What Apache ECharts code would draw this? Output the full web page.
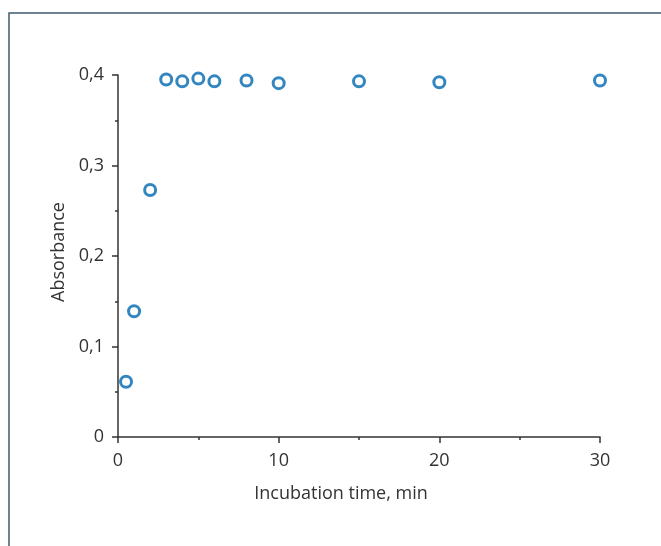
<!DOCTYPE html>
<html>
<head>
<meta charset="utf-8">
<script src="https://cdn.jsdelivr.net/npm/echarts@6/dist/echarts.min.js"></script>
<style>
  html, body { margin: 0; padding: 0; background: #fff; }
  #chart { width: 661px; height: 546px; }
</style>
</head>
<body>
<div id="chart"></div>
<script>
// incubation time (min) and absorbance
const times = [0.5, 1, 2, 3, 4, 5, 6, 8, 10, 15, 20, 30];
const absorbance = [0.061, 0.139, 0.273, 0.395, 0.393, 0.396, 0.393, 0.394, 0.391, 0.393, 0.392, 0.394];
const xTicks = [0, 10, 20, 30];
const yTicks = [0, 0.1, 0.2, 0.3, 0.4];

const points = times.map((t, i) => [t, absorbance[i]]);
const font = 'Open Sans';
const ink = '#333';

const chart = echarts.init(document.getElementById('chart'));
chart.setOption({
    animation: false,
    grid: { left: 118, right: 61, top: 75, bottom: 109 },
    graphic: [{
        type: 'rect',
        shape: { x: 9, y: 13, width: 700, height: 600 },
        style: { fill: 'none', stroke: '#3e5b6f', lineWidth: 1.5 },
        silent: true
    }],
    xAxis: {
        type: 'value',
        min: xTicks[0], max: xTicks[xTicks.length - 1], interval: 10,
        name: 'Incubation time, min',
        nameLocation: 'middle',
        nameGap: 48,
        // label sits a bit left of the axis centre in the original
        nameTextStyle: { fontFamily: font, fontSize: 18, color: ink, padding: [0, 36, 0, 0] },
        axisLine: { lineStyle: { color: ink, width: 1.5 } },
        axisTick: { length: 6, lineStyle: { color: ink, width: 1.5 } },
        minorTick: { show: true, splitNumber: 2, length: 3, lineStyle: { color: ink, width: 1.5 } },
        axisLabel: { fontFamily: font, fontSize: 18, color: ink, margin: 15 },
        splitLine: { show: false }
    },
    yAxis: {
        type: 'value',
        min: yTicks[0], max: yTicks[yTicks.length - 1], interval: 0.1,
        name: 'Absorbance',
        nameLocation: 'middle',
        nameGap: 50,
        nameTextStyle: { fontFamily: font, fontSize: 18, color: ink, padding: [0, 0, 0, 8] },
        axisLine: { show: true, lineStyle: { color: ink, width: 1.5 } },
        axisTick: { show: true, length: 6, lineStyle: { color: ink, width: 1.5 } },
        minorTick: { show: true, splitNumber: 2, length: 3, lineStyle: { color: ink, width: 1.5 } },
        axisLabel: {
            fontFamily: font, fontSize: 18, color: ink, margin: 14,
            formatter: v => (v === 0 ? '0' : v.toFixed(1).replace('.', ','))
        },
        splitLine: { show: false }
    },
    series: [{
        type: 'scatter',
        data: points,
        symbol: 'circle',
        symbolSize: 11,
        itemStyle: { color: '#fff', borderColor: '#0068b0', borderWidth: 3 }
    }]
});
</script>
</body>
</html>
